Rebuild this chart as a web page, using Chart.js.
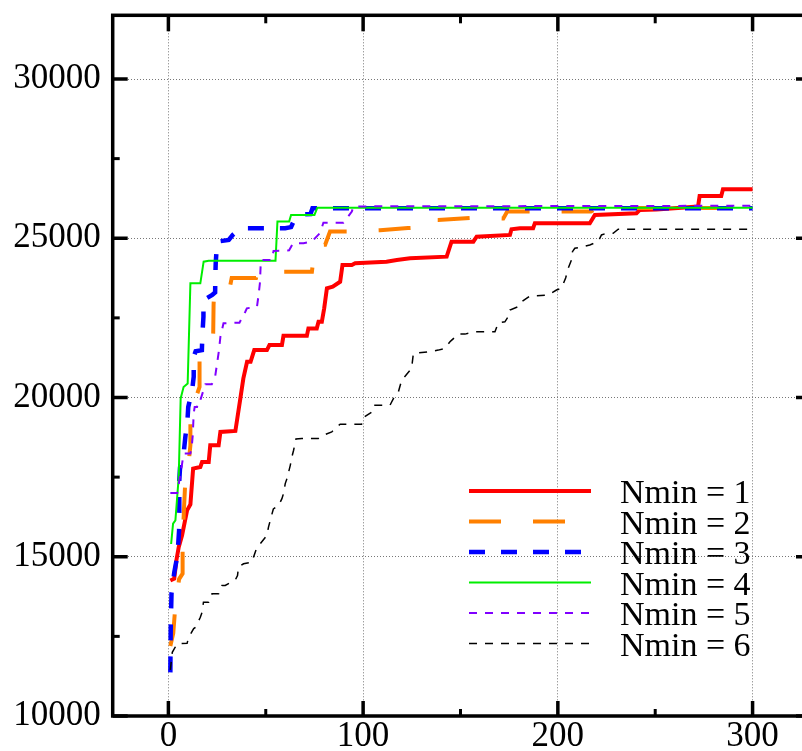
<!DOCTYPE html>
<html>
<head>
<meta charset="utf-8">
<script src="https://cdn.jsdelivr.net/npm/chart.js@4/dist/chart.umd.min.js"></script>
<style>
  html, body { margin: 0; padding: 0; background: #fff; overflow: hidden; }
  #wrap { width: 802px; height: 751px; overflow: hidden; }
  canvas { width: 820px; height: 751px; }
</style>
</head>
<body>
<div id="wrap"><canvas id="chart" width="820" height="751"></canvas></div>
<script>
/*
 * Data: [x, y] corners of each step curve
**/
const nmin1 = [[1,14255],[3,14310],[4.1,14884],[5.3,15302],[7,15670],[9.6,16456],[11.3,16645],[12.7,17767],[16.4,17818],[17.3,17975],[20.7,17975],[21.5,18500],[25.8,18500],[26.7,18918],[34.4,18950],[35.5,19390],[36.9,19950],[38.5,20600],[40.4,21120],[42.2,21120],[44.1,21488],[50.6,21488],[51.9,21645],[58.3,21645],[59.1,21937],[71.1,21937],[71.9,22170],[76.2,22170],[77.1,22377],[78.8,22377],[80,22799],[81.4,23428],[84.4,23478],[88.2,23635],[89.4,24160],[94.2,24160],[95.9,24214],[112,24265],[117.3,24318],[124.1,24371],[142.9,24422],[145.4,24893],[156.6,24893],[158.3,25050],[175.4,25104],[176.2,25282],[180.5,25314],[187.3,25314],[188.2,25472],[216.4,25472],[219,25733],[240.4,25786],[242.1,25890],[250.6,25900],[272,25994],[272.8,26330],[283.9,26330],[284.8,26541],[300,26541]]
const nmin2 = [[1,12200],[2.5,12600],[3.5,13400],[5.5,14300],[7.3,14470],[7.3,15460],[8,16500],[8.7,17400],[10,17700],[11.3,18500],[11.3,19450],[13,19800],[16,20330],[16,21280],[18,21500],[23,21950],[23.2,22900],[23.6,23500],[31.8,23530],[32.5,23750],[45,23750],[46,23950],[73.7,23950],[74,24110],[75,24790],[80.5,24795],[83,25210],[91.6,25210],[108.7,25250],[123,25320],[126,25330],[128,25575],[138.5,25575],[154.9,25640],[172,25620],[174,25837],[217,25837],[220,25950],[300,25950]]
const nmin3 = [[1,11370],[1.2,12800],[1.6,13850],[3,14500],[4,14830],[5,15350],[5.5,15830],[5.6,16400],[5.6,17400],[6,17818],[8,18343],[8.7,18761],[9.8,19300],[10.2,19704],[11,19915],[12.2,20230],[13,20650],[13,21277],[14,21450],[17.2,21488],[17.4,21906],[18,22535],[18,23060],[22.5,23217],[24,23300],[24.1,23792],[24.3,24214],[25,24893],[31,24946],[33,25100],[36,25260],[38,25314],[60,25314],[63,25350],[65,25629],[70,25755],[73,25760],[74,25943],[300,25943]]
const nmin4 = [[1.4,15400],[2.4,16040],[3.6,16140],[5.3,17500],[6.3,19970],[7.8,20330],[9.9,20440],[11.3,23585],[16.4,23585],[18.1,24265],[20.7,24296],[55,24296],[56,25522],[62,25522],[63,25733],[75,25733],[76.5,25960],[300,25955]]
const nmin5 = [[1,17000],[4.5,17000],[5.5,17350],[6.5,17700],[7.8,18240],[11.3,18240],[12,18450],[12.5,18810],[13,19500],[13.5,19704],[14.7,19704],[15.5,19915],[16.4,19915],[19,20418],[22.3,20418],[24,20650],[26,21490],[26.7,21906],[28.3,22330],[36.5,22350],[39.5,22692],[40.3,22800],[45.5,22850],[46.3,23217],[47,23594],[47.5,24318],[53,24318],[54,24600],[62,24620],[64,24843],[69.4,24843],[73.6,24893],[77.9,25167],[79.6,25490],[89.9,25490],[94.2,25836],[95,26000],[300,26020]]
const nmin6 = [[1,11450],[2,12000],[4.5,12270],[9.6,12280],[10.4,12470],[13,12745],[14,12790],[16.4,13100],[17.3,13260],[18,13572],[20.7,13572],[22.4,13836],[25.8,13836],[27.5,14097],[29.2,14097],[34.4,14277],[35.5,14412],[36,14673],[38.6,14780],[42.9,14830],[43.7,14987],[45.5,15302],[47.2,15409],[50.6,15670],[51.4,15931],[53,16299],[53.9,16500],[56.6,16613],[58.3,16824],[59.1,16981],[60,17296],[60.9,17453],[62.6,17871],[63.4,18132],[64.3,18343],[65.5,18700],[68.5,18711],[77,18711],[79.6,18814],[83.9,18918],[86.4,19075],[88.2,19160],[99.2,19160],[99.7,19349],[104.5,19547],[105.5,19758],[113.8,19758],[115.6,19969],[118.1,20176],[119.8,20544],[124.9,20912],[125.8,21384],[133.5,21434],[138.6,21488],[142,21540],[144.6,21750],[145.5,21800],[148.9,21990],[152.3,21990],[157.4,22063],[167.7,22063],[169.4,22346],[172.8,22377],[174.5,22535],[175.4,22745],[179.6,22850],[181.4,23006],[185.6,23186],[195,23217],[199.3,23374],[201.8,23428],[204,23750],[205.3,24057],[207,24318],[207.5,24578],[208.7,24685],[213,24736],[216.4,24790],[220.7,24893],[222.4,25104],[225,25157],[228.4,25157],[231,25283],[300,25283]]

const seriesNames = ['Nmin = 1', 'Nmin = 2', 'Nmin = 3', 'Nmin = 4', 'Nmin = 5', 'Nmin = 6']
const seriesPoints = [nmin1, nmin2, nmin3, nmin4, nmin5, nmin6]

const xTicks = [0, 100, 200, 300]
const xMinorTicks = [50, 150, 250]
const yTicks = [10000, 15000, 20000, 25000, 30000]
const yMinorTicks = [12500, 17500, 22500, 27500]

// styles
const colors = ['#ff0000', '#ff8000', '#0000ff', '#00ee00', '#8000ff', '#000000']
const widths = [4, 4, 4.5, 2, 2, 1.5]
const dashes = [[], [32, 32], [16, 16], [], [8, 8], [8, 8]]
const serif = "'Liberation Serif', 'Times New Roman', serif"

/*
 * Frame with inward ticks, drawn on top of the curves
**/
const framePlugin = {
  id: 'frame',
  afterDatasetsDraw(chart) {
    const { ctx, chartArea: a, scales: { x, y } } = chart
    ctx.save()
    ctx.strokeStyle = '#000'
    ctx.setLineDash([])
    const seg = (x1, y1, x2, y2, w) => {
      ctx.lineWidth = w
      ctx.beginPath()
      ctx.moveTo(x1, y1)
      ctx.lineTo(x2, y2)
      ctx.stroke()
    }
    xTicks.forEach((v) => {
      const px = x.getPixelForValue(v)
      seg(px, a.bottom, px, a.bottom - 15, 3.5)
      seg(px, a.top, px, a.top + 16, 3.5)
    })
    xMinorTicks.forEach((v) => {
      const px = x.getPixelForValue(v)
      seg(px, a.bottom, px, a.bottom - 7, 3)
      seg(px, a.top, px, a.top + 8, 3)
    })
    yTicks.forEach((v) => {
      const py = y.getPixelForValue(v)
      seg(a.left, py, a.left + 15, py, 3.5)
      seg(a.right, py, a.right - 15, py, 3.5)
    })
    yMinorTicks.forEach((v) => {
      const py = y.getPixelForValue(v)
      seg(a.left, py, a.left + 7, py, 3)
      seg(a.right, py, a.right - 7, py, 3)
    })
    ctx.lineWidth = 3.5
    ctx.strokeRect(a.left, a.top, a.right - a.left, a.bottom - a.top)
    ctx.restore()
  }
}

const legendPlugin = {
  id: 'lineLegend',
  afterDraw(chart) {
    const { ctx } = chart
    ctx.save()
    seriesNames.forEach((name, i) => {
      const rowY = 491 + i * 30.5
      ctx.strokeStyle = colors[i]
      ctx.lineWidth = widths[i]
      ctx.setLineDash(dashes[i])
      ctx.beginPath()
      ctx.moveTo(469, rowY)
      ctx.lineTo(591, rowY)
      ctx.stroke()
      ctx.setLineDash([])
      ctx.fillStyle = '#000'
      ctx.font = '34px ' + serif
      ctx.textBaseline = 'alphabetic'
      ctx.textAlign = 'left'
      ctx.fillText(name, 620, rowY + 12)
    })
    ctx.restore()
  }
}

const datasets = seriesPoints.map((pts, i) => ({
  label: seriesNames[i],
  data: pts.map(([px, py]) => ({ x: px, y: py })),
  borderColor: colors[i],
  borderWidth: widths[i],
  borderDash: dashes[i],
  pointRadius: 0,
  fill: false,
  tension: 0,
  order: seriesNames.length - i
}))

const gridStyle = { color: '#777', lineWidth: 1, drawTicks: false }

new Chart(document.getElementById('chart'), {
  type: 'line',
  data: { datasets: datasets },
  options: {
    responsive: false,
    animation: false,
    layout: { padding: { top: 15.3, right: 9, left: 0, bottom: 0 } },
    plugins: { legend: { display: false }, tooltip: { enabled: false } },
    scales: {
      x: {
        type: 'linear',
        min: -28.6,
        max: 330,
        grid: gridStyle,
        border: { display: false, dash: [1, 2] },
        afterBuildTicks: (s) => { s.ticks = xTicks.map((v) => ({ value: v })) },
        afterFit: (s) => { s.height = 35; s.paddingLeft = 0; s.paddingRight = 0 },
        ticks: {
          padding: 0,
          color: '#000',
          font: { family: serif, size: 35 },
          maxRotation: 0,
          callback: (v) => String(v)
        }
      },
      y: {
        min: 10000,
        max: 32000,
        grid: gridStyle,
        border: { display: false, dash: [1, 2] },
        afterBuildTicks: (s) => { s.ticks = yTicks.map((v) => ({ value: v })) },
        afterFit: (s) => { s.width = 112.7; s.paddingTop = 0; s.paddingBottom = 0 },
        ticks: {
          padding: 12,
          color: '#000',
          font: { family: serif, size: 35 },
          callback: (v) => String(v)
        }
      }
    }
  },
  plugins: [framePlugin, legendPlugin]
})
</script>
</body>
</html>
